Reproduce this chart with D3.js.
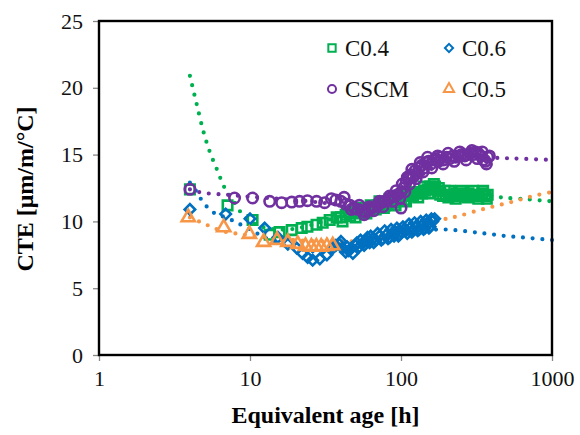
<!DOCTYPE html>
<html>
<head>
<meta charset="utf-8">
<script src="https://cdn.jsdelivr.net/npm/d3@7"></script>
<style>
  body { margin: 0; background: #fff; }
  text { font-family: "Liberation Serif", "Times New Roman", serif; }
</style>
</head>
<body>
<div id="chart"></div>
<script>
/* Series: [age h, CTE] */
const C04 = [
  [4.0,12.4],[7.1,11.2],[10.4,10.1],[13.5,9.0],[15.7,9.2],[18.9,9.35],[22,9.5],[24,9.6],[27.6,9.75],[30.3,9.9],[33.7,10.1],[37.5,10.3],
  [40,10.3],[43,10.5],[46,10.4],[49,10.6],[52,10.7],[55,10.8],[58,10.9],[61,10.8],[64,11.0],[67,11.1],[70,11.2],[74,11.3],[78,11.2],
  [82,11.4],[86,11.5],[90,11.4],[95,11.6],[100,11.7],[105,11.6],[110,11.9],[115,12.0],[120,11.9],[126,12.1],[132,12.2],[138,12.1],
  [144,12.3],[150,12.4],[156,12.6],[162,12.5],[168,12.6],[175,12.3],[182,12.0],[190,11.9],[198,12.0],[206,11.8],[215,12.0],[225,11.9],
  [235,12.1],[245,12.0],[256,11.9],[268,12.0],[280,12.1],[292,11.9],[305,12.0],[318,11.9],[332,12.0],[346,12.1],[360,11.9],[375,12.0],
  [41,10.0],[45,10.7],[50,10.3],[54,11.0],[59,10.6],[63,11.2],[68,10.9],[72,11.5],[77,11.0],[84,11.7],[92,11.2],[98,11.9],[108,11.5],
  [118,12.2],[130,11.8],[142,12.6],[153,12.1],[165,12.8],[178,12.5],[195,12.3],[210,12.3],[230,11.7],[250,12.3],[275,11.8],[300,12.3],
  [325,11.7],[350,12.3],[370,11.7]
];
const C06 = [
  [4.0,10.9],[6.9,10.55],[10.0,10.2],[12.5,9.5],[15.3,8.8],[17.8,8.3],[20.4,8.0],[22.3,7.6],[24.1,7.3],[26.0,7.1],[29.0,7.2],[32.3,7.5],[34.6,7.9],[37,8.2],
  [39,8.3],[41,8.0],[43,7.7],[45,7.8],[47,8.0],[50,8.2],[53,8.1],[56,8.4],[59,8.6],[62,8.4],[65,8.7],[68,8.6],[72,8.9],[76,8.7],[80,9.0],
  [84,8.8],[88,9.1],[92,9.2],[96,8.9],[100,9.2],[105,9.4],[110,9.1],[115,9.5],[120,9.3],[126,9.6],[132,9.4],[138,9.7],[144,9.5],
  [150,9.8],[156,9.6],[162,10.0],[167,10.2],
  [40,8.5],[44,8.1],[48,7.6],[51,8.4],[54,8.6],[57,8.2],[60,8.8],[63,8.9],[66,8.4],[70,9.1],[74,8.6],[78,9.3],[82,8.7],[86,9.4],
  [90,8.9],[94,9.5],[98,9.0],[103,9.6],[108,9.3],[113,9.8],[118,9.2],[123,9.9],[129,9.3],[135,10.0],[141,9.4],[147,10.1],[153,9.5],[159,10.2]
];
const CSCM = [
  [4.0,12.4],[7.9,11.75],[10.4,11.75],[13.5,11.5],[16.2,11.4],[18.9,11.45],[21.3,11.5],[24,11.55],[27.6,11.5],[31.2,11.4],[34.6,11.7],[37,11.6],
  [40,11.5],[43,11.3],[46,11.2],[49,11.0],[52,10.9],[55,10.8],[58,10.7],[61,10.85],[64,11.0],[67,11.1],[70,11.2],[74,11.4],[78,11.5],
  [82,11.6],[86,11.8],[90,11.9],[95,12.0],[100,11.0],[100,12.2],[104,12.5],[108,12.9],[112,13.2],[116,13.5],[120,13.3],[124,13.8],
  [128,13.6],[132,14.0],[137,14.2],[142,14.0],[147,14.4],[152,14.5],[158,14.3],[164,14.6],[170,14.7],[177,14.5],[184,14.8],[192,14.6],
  [200,14.8],[210,14.7],[220,14.9],[230,14.8],[240,14.9],[252,15.0],[264,14.9],[276,15.0],[288,15.1],[300,15.0],[312,15.2],[325,15.1],
  [338,14.9],[350,14.6],[362,14.5],[375,14.8],[385,14.9],
  [42,11.8],[47,10.9],[53,11.2],[57,10.5],[62,11.1],[66,10.8],[72,11.5],[76,11.1],[84,11.9],[88,11.5],[93,12.3],[98,11.7],[102,12.8],
  [106,12.2],[110,13.3],[114,12.8],[118,13.9],[126,13.2],[134,14.4],[140,13.7],[150,14.8],[160,14.0],[175,14.9],[190,14.3],[205,15.1],
  [225,14.5],[245,15.2],[270,14.6],[295,15.3],[320,14.7],[345,15.2],[368,14.3]
];
const C05 = [
  [3.9,10.3],[6.7,9.55],[9.9,9.05],[12.3,8.45],[15.1,8.6],[17.8,8.45],[20.7,8.3],[23.3,8.15],[25.5,8.1],[27.5,8.1],[29.6,8.1],[32.3,8.15],[35.3,8.2]
];

/* Trendlines */
const TREND_C04 = [[4,20.9],[4.43,18.8],[4.95,16.6],[5.42,15.2],[6.06,13.85],[6.8,12.5],[7.7,11.6],[8.8,10.6],[10,10.0],[13,9.5],[18,9.4],[25,9.7],[35,10.2],[50,10.8],[70,11.3],[100,11.7],[150,12.0],[220,12.1],[350,12.0],[460,11.8],[700,11.65],[1000,11.5]];
const TREND_C06 = [[4,12.9],[4.5,12.1],[4.9,11.4],[5.3,11.0],[5.85,10.6],[6.5,10.4],[7.4,10.15],[8.2,9.9],[10,9.4],[13,8.7],[17,8.2],[22,7.9],[30,7.7],[40,7.8],[55,8.1],[75,8.6],[100,9.0],[140,9.3],[190,9.4],[300,9.2],[390,9.05],[500,8.9],[640,8.8],[1000,8.6]];
const TREND_CSCM = [[4,12.4],[4.6,12.2],[5.2,12.1],[6,12.05],[7,12.0],[10,11.85],[15,11.7],[20,11.6],[30,11.4],[45,11.2],[60,11.3],[80,11.8],[100,12.4],[130,13.3],[170,14.1],[220,14.6],[300,14.85],[440,14.75],[600,14.7],[1000,14.6]];
const TREND_C05 = [[4,10.3],[4.7,9.95],[5.4,9.65],[6.1,9.4],[7,9.2],[8,9.1],[10,8.95],[15,8.7],[20,8.6],[30,8.5],[45,8.5],[60,8.6],[100,9.2],[150,9.8],[200,10.2],[240,10.4],[320,10.8],[420,11.15],[560,11.5],[750,11.9],[1000,12.2]];

const X_TICKS = [1, 10, 100, 1000];
const Y_TICKS = [0, 5, 10, 15, 20, 25];

// diamond = square turned 45 degrees, as in the spreadsheet marker
const SERIES = [
  { name: 'C0.4', data: C04, trend: TREND_C04, color: '#00B050', symbol: d3.symbolSquare, size: 90, rot: 0 },
  { name: 'C0.6', data: C06, trend: TREND_C06, color: '#0070C0', symbol: d3.symbolSquare, size: 55, rot: 45 },
  { name: 'CSCM', data: CSCM, trend: TREND_CSCM, color: '#7030A0', symbol: d3.symbolCircle, size: 85, rot: 0 },
  { name: 'C0.5', data: C05, trend: TREND_C05, color: '#F79646', symbol: d3.symbolTriangle, size: 75, rot: 0 }
];

const WIDTH = 580, HEIGHT = 435;
const M = { left: 99, right: 552, top: 21, bottom: 355 };

const svg = d3.select('#chart').append('svg')
  .attr('width', WIDTH).attr('height', HEIGHT);

const x = d3.scaleLog().domain([1, 1000]).range([M.left, M.right]);
const y = d3.scaleLinear().domain([0, 25]).range([M.bottom, M.top]);

// axes
const xAxis = svg.append('g').attr('transform', `translate(0,${M.bottom})`)
  .call(d3.axisBottom(x).tickValues(X_TICKS).tickFormat(d3.format('d')).tickSize(6).tickPadding(9));
const yAxis = svg.append('g').attr('transform', `translate(${M.left},0)`)
  .call(d3.axisLeft(y).tickValues(Y_TICKS).tickSize(6).tickPadding(10));
[xAxis, yAxis].forEach(a => {
  a.select('.domain').remove();
  a.selectAll('.tick line').attr('stroke', '#888').attr('stroke-width', 1.3);
  a.selectAll('.tick text').style('font-size', '22px').attr('fill', '#111');
});

// trendlines (dotted)
const line = d3.line().x(d => x(d[0])).y(d => y(d[1])).curve(d3.curveCatmullRom.alpha(0.5));
svg.append('g').selectAll('path').data(SERIES).enter().append('path')
  .attr('d', d => line(d.trend))
  .attr('fill', 'none')
  .attr('stroke', d => d.color)
  .attr('stroke-width', 4.2)
  .attr('stroke-linecap', 'round')
  .attr('stroke-dasharray', '0 9.7');

// markers
SERIES.forEach(s => {
  svg.append('g').selectAll('path').data(s.data).enter().append('path')
    .attr('transform', d => `translate(${x(d[0])},${y(d[1])}) rotate(${s.rot})`)
    .attr('d', d3.symbol().type(s.symbol).size(s.size))
    .attr('fill', 'none')
    .attr('stroke', s.color)
    .attr('stroke-width', 2.6);
});

// frame
svg.append('rect')
  .attr('x', M.left).attr('y', M.top)
  .attr('width', M.right - M.left).attr('height', M.bottom - M.top)
  .attr('fill', 'none').attr('stroke', '#000').attr('stroke-width', 2.4);

// legend
const LEG = [
  { s: SERIES[0], x: 332, y: 48 },
  { s: SERIES[1], x: 449, y: 48 },
  { s: SERIES[2], x: 332, y: 89 },
  { s: SERIES[3], x: 449, y: 89 }
];
const leg = svg.append('g');
LEG.forEach(l => {
  leg.append('path')
    .attr('transform', `translate(${l.x},${l.y}) rotate(${l.s.rot})`)
    .attr('d', d3.symbol().type(l.s.symbol).size(l.s.size * 0.6))
    .attr('fill', 'none').attr('stroke', l.s.color).attr('stroke-width', 2);
  leg.append('text')
    .attr('x', l.x + 13).attr('y', l.y + 8)
    .style('font-size', '23px').attr('fill', '#111')
    .text(l.s.name);
});

// axis titles
svg.append('text')
  .attr('x', (M.left + M.right) / 2).attr('y', 423)
  .attr('text-anchor', 'middle')
  .style('font-size', '24px').style('font-weight', 'bold')
  .text('Equivalent age [h]');
svg.append('text')
  .attr('transform', 'translate(33,189) rotate(-90)')
  .attr('text-anchor', 'middle')
  .style('font-size', '24px').style('font-weight', 'bold')
  .text('CTE [μm/m/°C]');
</script>
</body>
</html>
